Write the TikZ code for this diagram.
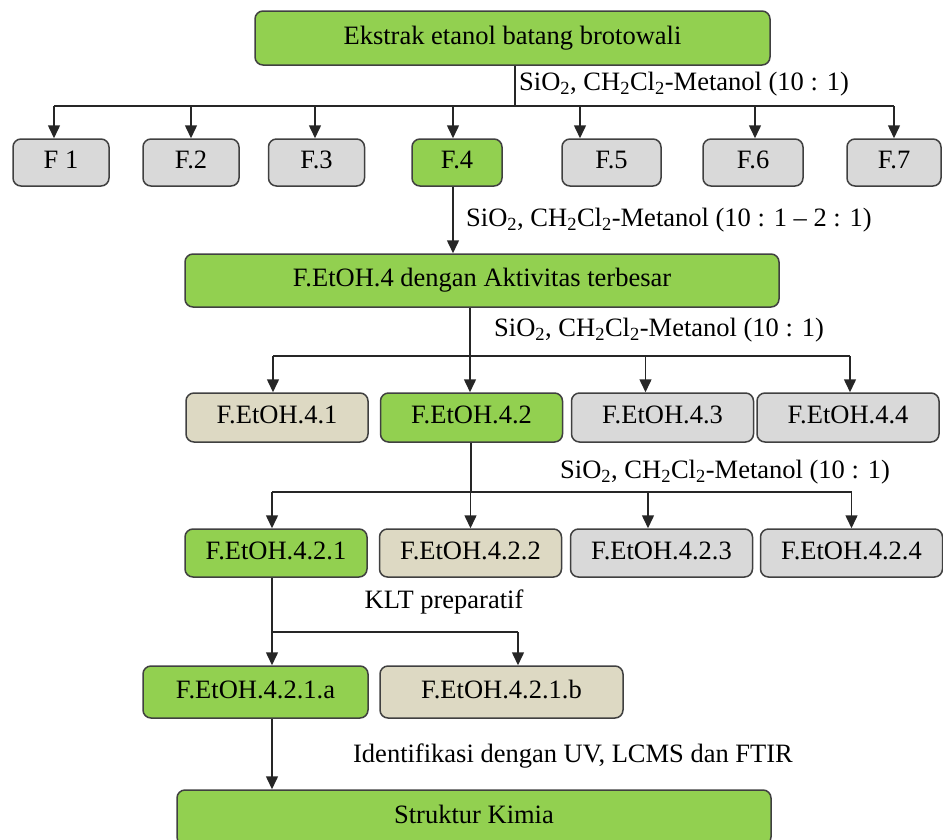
\documentclass[tikz,border=0pt]{standalone}
\usepackage{fontspec}
\setmainfont{Liberation Serif}
\usetikzlibrary{arrows.meta,positioning}
\definecolor{boxgreen}{HTML}{92D050}
\definecolor{boxgrey}{HTML}{D9D9D9}
\definecolor{boxtan}{HTML}{DDD9C3}
\tikzset{
  box/.style={draw=black!75, line width=1.5pt, rounded corners=8pt, inner sep=0pt,
    text height=18pt, text depth=6pt, font=\fontsize{26.5}{30}\selectfont},
  greenbox/.style={box, fill=boxgreen},
  greybox/.style={box, fill=boxgrey},
  tanbox/.style={box, fill=boxtan},
  conn/.style={draw=black!85, line width=1.5pt},
  arr/.style={conn, -{Triangle[length=13pt,width=12pt]}},
  lbl/.style={inner sep=0pt, font=\fontsize{26.5}{30}\selectfont}
}
\newcommand{\elusi}[1]{SiO\textsubscript{2}, CH\textsubscript{2}Cl\textsubscript{2}-Metanol (#1)}
\begin{document}
\begin{tikzpicture}[x=1pt,y=-1pt]
\path[use as bounding box, clip] (0,0) rectangle (943,839);

\node[greenbox, minimum width=515pt, minimum height=54pt] (ekstrak) at (512.5,38) {Ekstrak etanol batang brotowali};
\foreach \n/\t/\cx/\w/\s in {1/F 1/61/96/greybox, 2/F.2/191/96/greybox, 3/F.3/316.5/96/greybox,
    4/F.4/457/90/greenbox, 5/F.5/611.5/99/greybox, 6/F.6/753/100/greybox, 7/F.7/894/94/greybox}
  \node[\s, minimum width=\w pt, minimum height=47pt] (F\n) at (\cx,162.5) {\t};
\coordinate (bar1) at (0,106);
\draw[conn] ([xshift=2.5pt]ekstrak.south) -- ([xshift=2.5pt]ekstrak.south |- bar1);
\draw[conn] ([xshift=-7pt]F1.north |- bar1) -- (F7.north |- bar1);
\foreach \n/\dx in {1/-7,2/0,3/-1.5,4/-4,5/-31.5,6/2,7/0}
  \draw[arr] ([xshift=\dx pt]F\n.north |- bar1) -- ([xshift=\dx pt]F\n.north);
\node[lbl, anchor=west] (sio1) at (519,84) {\elusi{10 : 1}};

\node[greenbox, minimum width=594pt, minimum height=53pt] (etoh4) at (482,280.5) {F.EtOH.4 dengan Aktivitas terbesar};
\draw[arr] ([xshift=-4pt]F4.south) -- ([xshift=-4pt]F4.south |- etoh4.north);
\node[lbl, anchor=west] (sio2) at (466,220) {\elusi{10 : 1 -- 2 : 1}};

\foreach \n/\cx/\s in {1/277/tanbox, 2/471.5/greenbox, 3/662.5/greybox, 4/848/greybox}
  \node[\s, minimum width=182pt, minimum height=49pt] (e4\n) at (\cx,417.5) {F.EtOH.4.\n};
\coordinate (bar2) at (0,356);
\draw[conn] ([xshift=-12pt]etoh4.south) -- ([xshift=-12pt]etoh4.south |- bar2);
\draw[conn] ([xshift=-4pt]e41.north |- bar2) -- ([xshift=2pt]e44.north |- bar2);
\foreach \n/\dx in {1/-4,2/-1.5,3/-17,4/2}
  \draw[arr] ([xshift=\dx pt]e4\n.north |- bar2) -- ([xshift=\dx pt]e4\n.north);
\node[lbl, anchor=west] (sio3) at (494,330) {\elusi{10 : 1}};

\foreach \n/\cx/\s in {1/276/greenbox, 2/470.5/tanbox, 3/661.5/greybox, 4/851.5/greybox}
  \node[\s, minimum width=182pt, minimum height=48pt] (e42\n) at (\cx,553) {F.EtOH.4.2.\n};
\coordinate (bar3) at (0,492);
\draw[conn] ([xshift=-0.5pt]e42.south) -- ([xshift=-0.5pt]e42.south |- bar3);
\draw[conn] ([xshift=-4pt]e421.north |- bar3) -- (e424.north |- bar3);
\foreach \n/\dx in {1/-4,2/0,3/-13.5,4/0}
  \draw[arr] ([xshift=\dx pt]e42\n.north |- bar3) -- ([xshift=\dx pt]e42\n.north);
\node[lbl, anchor=west] (sio4) at (560,472) {\elusi{10 : 1}};

\node[greenbox, minimum width=225pt, minimum height=52pt] (e421a) at (255.5,692) {F.EtOH.4.2.1.a};
\node[tanbox, minimum width=243pt, minimum height=52pt] (e421b) at (501.5,692) {F.EtOH.4.2.1.b};
\coordinate (bar4) at (0,632);
\draw[conn] ([xshift=-4pt]e421.south) -- ([xshift=-4pt]e421.south |- bar4);
\draw[conn] ([xshift=16.5pt]e421a.north |- bar4) -- ([xshift=16.5pt]e421b.north |- bar4);
\foreach \m in {e421a,e421b}
  \draw[arr] ([xshift=16.5pt]\m.north |- bar4) -- ([xshift=16.5pt]\m.north);
\node[lbl] (klt) at (444,602) {KLT preparatif};

\node[greenbox, minimum width=594pt, minimum height=55pt] (struktur) at (474,817.5) {Struktur Kimia};
\draw[arr] ([xshift=16.5pt]e421a.south) -- ([xshift=16.5pt]e421a.south |- struktur.north);
\node[lbl] (ident) at (573,756) {Identifikasi dengan UV, LCMS dan FTIR};
\end{tikzpicture}
\end{document}
